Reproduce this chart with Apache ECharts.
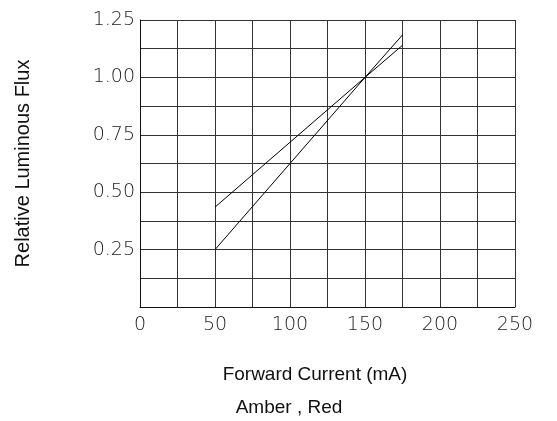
<!DOCTYPE html>
<html>
<head>
<meta charset="utf-8">
<script src="https://cdn.jsdelivr.net/npm/echarts@6/dist/echarts.min.js"></script>
<style>
  html, body { margin: 0; padding: 0; background: #fff; }
  #chart { width: 557px; height: 421px; }
</style>
</head>
<body>
<div id="chart"></div>
<script>
// forward current (mA)
var currentA = [50, 150, 175];
var currentB = [50, 150, 175];
// relative luminous flux
var fluxA = [0.25, 1.0, 1.185];
var fluxB = [0.435, 1.0, 1.14];
var xTickLabels = ['0', '50', '100', '150', '200', '250'];
var yTickLabels = ['0.25', '0.50', '0.75', '1.00', '1.25'];

function pairs(xs, ys) {
  return xs.map(function (x, i) { return [x, ys[i]]; });
}

var tickFont = {
  fontFamily: 'DejaVu Sans',
  fontWeight: 200,
  fontSize: 19,
  color: '#222'
};

var chart = echarts.init(document.getElementById('chart'), null, { renderer: 'canvas' });

var option = {
  animation: false,
  backgroundColor: '#fff',
  grid: {
    left: 140,
    right: 42,
    top: 20,
    bottom: 114,
    containLabel: false,
    outerBoundsMode: 'none'
  },
  xAxis: {
    type: 'value',
    min: 0,
    max: 250,
    interval: 25,
    axisLine: { show: true, lineStyle: { color: '#111', width: 1 } },
    axisTick: { show: false },
    splitLine: { show: true, lineStyle: { color: '#333', width: 1 } },
    axisLabel: Object.assign({
      margin: 9,
      formatter: function (v) {
        var s = String(v);
        return xTickLabels.indexOf(s) >= 0 ? s : '';
      }
    }, tickFont)
  },
  yAxis: {
    type: 'value',
    min: 0,
    max: 1.25,
    interval: 0.125,
    name: 'Relative Luminous Flux',
    nameLocation: 'middle',
    nameRotate: 90,
    nameGap: 107,
    nameTextStyle: {
      fontFamily: 'Liberation Sans',
      fontSize: 20,
      color: '#111'
    },
    axisLine: { show: true, lineStyle: { color: '#111', width: 1 } },
    axisTick: { show: false },
    splitLine: { show: true, lineStyle: { color: '#333', width: 1 } },
    axisLabel: Object.assign({
      margin: 5,
      padding: [0, 0, 8, 0],
      formatter: function (v) {
        var s = v.toFixed(2);
        return yTickLabels.indexOf(s) >= 0 ? s : '';
      }
    }, tickFont)
  },
  series: [{
    type: 'line',
    data: pairs(currentA, fluxA),
    showSymbol: false,
    symbol: 'none',
    lineStyle: { color: '#000', width: 1 }
  }, {
    type: 'line',
    data: pairs(currentB, fluxB),
    showSymbol: false,
    symbol: 'none',
    lineStyle: { color: '#000', width: 1 }
  }],
  graphic: [{
    type: 'text',
    x: 315,
    y: 375,
    style: {
      text: 'Forward Current (mA)',
      fill: '#111',
      font: '19px "Liberation Sans"',
      align: 'center',
      verticalAlign: 'middle'
    }
  }, {
    type: 'text',
    x: 289,
    y: 408,
    style: {
      text: 'Amber , Red',
      fill: '#111',
      font: '19px "Liberation Sans"',
      align: 'center',
      verticalAlign: 'middle'
    }
  }]
};

chart.setOption(option);
</script>
</body>
</html>
